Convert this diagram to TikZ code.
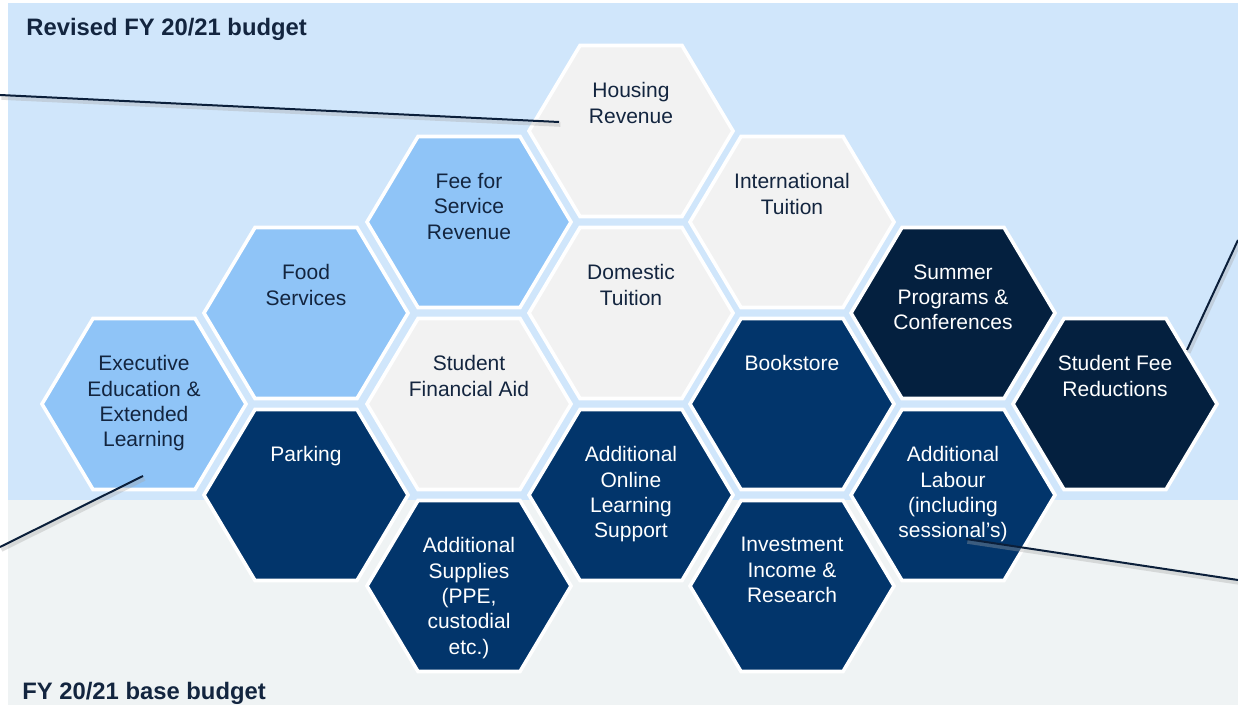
\documentclass[tikz,border=0pt]{standalone}
\usepackage{fontspec}
\setmainfont{Liberation Sans}
\usetikzlibrary{positioning,calc}

\definecolor{bgtop}{HTML}{D0E6FB}
\definecolor{bgbot}{HTML}{EFF3F4}
\definecolor{hexgray}{HTML}{F2F2F2}
\definecolor{hexsky}{HTML}{8FC4F7}
\definecolor{hexnavy}{HTML}{02356B}
\definecolor{hexdeep}{HTML}{04203F}
\definecolor{textnavy}{HTML}{13253F}
\definecolor{linenavy}{HTML}{0B1F3A}

\begin{document}
\begin{tikzpicture}[x=0.5pt,y=-0.5pt,
	hexcell/.style={draw=white,line width=1.8pt,line join=miter},
	hexlabel/.style={anchor=north,align=center,inner sep=0pt,font=\fontsize{10.5}{12.7}\selectfont},
	bandlabel/.style={anchor=base west,inner sep=0pt,font=\fontsize{11.9}{14}\selectfont\bfseries,text=textnavy},
	callout/.style={draw=linenavy,line width=1pt},
	calloutshadow/.style={draw=black!35,line width=2.2pt,opacity=0.35,transform canvas={xshift=0.7pt,yshift=-1.3pt}}]
		\useasboundingbox (0,0) rectangle (1238,705);
		\fill[bgtop] (8,3) rectangle (1238,500);
		\fill[bgbot] (8,500) rectangle (1238,705);
		
		\node[bandlabel] (revised) at (26,36) {Revised FY 20/21 budget};
		
		\node[bandlabel] (base) at (22,699) {FY 20/21 base budget};
		
		\foreach \x/\y/\c/\tc/\n/\t in {
			631/131/hexgray/textnavy/housing/{Housing\\Revenue},
			469/222/hexsky/textnavy/feeservice/{Fee for\\Service\\Revenue},
			792/222/hexgray/textnavy/intl/{International\\Tuition},
			306/313/hexsky/textnavy/food/{Food\\Services},
			631/313/hexgray/textnavy/domestic/{Domestic\\Tuition},
			953/313/hexdeep/white/summer/{Summer\\Programs \&\\Conferences},
			144/404/hexsky/textnavy/execed/{Executive\\Education \&\\Extended\\Learning},
			469/404/hexgray/textnavy/finaid/{Student\\Financial Aid},
			792/404/hexnavy/white/bookstore/{Bookstore},
			1115/404/hexdeep/white/feered/{Student Fee\\Reductions},
			306/495/hexnavy/white/parking/{Parking},
			631/495/hexnavy/white/online/{Additional\\Online\\Learning\\Support},
			953/495/hexnavy/white/labour/{Additional\\Labour\\(including\\sessional’s)},
			469/586/hexnavy/white/supplies/{Additional\\Supplies\\(PPE,\\custodial\\etc.)},
			792/586/hexnavy/white/invest/{Investment\\Income \&\\Research}}
		{
			\coordinate (\n) at (\x,\y);
			\filldraw[hexcell,fill=\c] (\n) ++(-102,0) -- ++(51,-85.5) -- ++(102,0) -- ++(51,85.5) -- ++(-51,85.5) -- ++(-102,0) -- cycle;
			\node[hexlabel,text=\tc] (\n-txt) at (\x,\y-49) {\t};
		}
		
		\coordinate (edgeNW) at (0,95);
		\coordinate (edgeNE) at (1238,240);
		\coordinate (edgeSW) at (0,547);
		\coordinate (edgeSE) at (1238,580);
		\coordinate (housing-pin) at ($(housing)+(-72,-9)$);
		\coordinate (feered-pin) at ($(feered)+(72,-54)$);
		\coordinate (execed-pin) at ($(execed)+(-1,72)$);
		\coordinate (labour-pin) at ($(labour)+(13,44)$);
		
		\foreach \a/\b in {edgeNW/housing-pin,edgeNE/feered-pin,edgeSW/execed-pin,edgeSE/labour-pin}
		{
			\draw[calloutshadow] (\a)--(\b);
			\draw[callout] (\a)--(\b);
		}
	\end{tikzpicture}
\end{document}
